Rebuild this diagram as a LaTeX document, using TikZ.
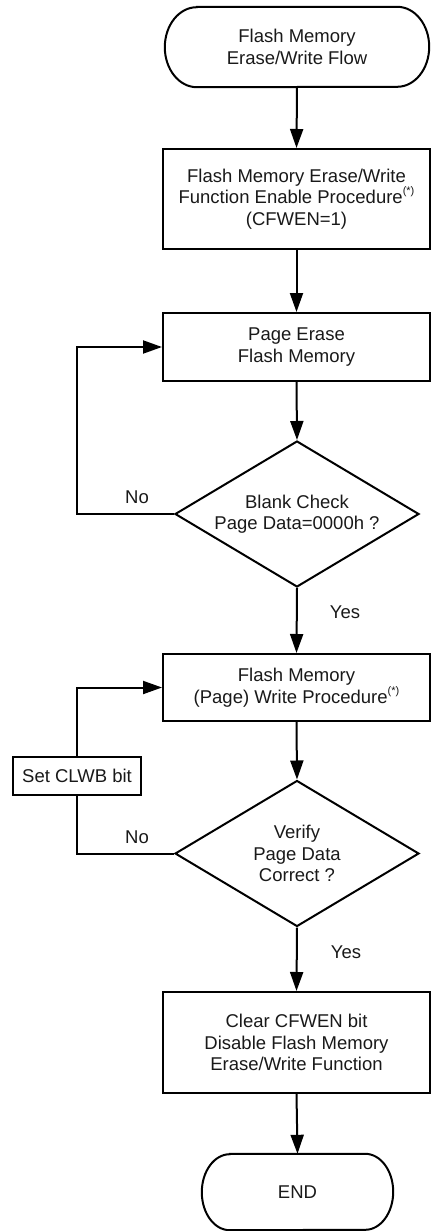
\documentclass[tikz,border=0pt]{standalone}
\usepackage{fontspec}
\setmainfont{Liberation Sans}
\usetikzlibrary{shapes.geometric,arrows.meta}
\newcommand\astnote{\raisebox{9pt}{\fontsize{11}{11}\selectfont(*)}}
\newcommand\drawstadium[3]{%
  \draw[line width=2pt] ([xshift=#2]#1.north west) -- ([xshift=-#2]#1.north east)
    arc[start angle=90,end angle=-90,x radius=#2,y radius=#3]
    -- ([xshift=#2]#1.south west)
    arc[start angle=270,end angle=90,x radius=#2,y radius=#3] -- cycle;}
\begin{document}
\begin{tikzpicture}[x=1pt,y=-1pt,
  font=\fontsize{18.5}{21.5}\selectfont,
  every node/.style={align=center, inner sep=0pt, text=black!90},
  procbox/.style={draw, line width=2pt, minimum width=267pt},
  decision/.style={draw, diamond, aspect=1.67, minimum width=244pt, minimum height=146pt, line width=2pt},
  flow/.style={line width=2pt, -{Triangle[length=19pt,width=13pt]}},
  plainline/.style={line width=2pt},
  lbl/.style={}
  ]
\useasboundingbox (0,0) rectangle (432,1231);

\node[minimum width=264pt, minimum height=80pt] (start) at (297,47) {Flash Memory\\Erase/Write Flow};
\drawstadium{start}{32pt}{40pt}

\node[procbox, minimum height=100pt] (enable) at (296.5,199) {Flash Memory Erase/Write\\Function Enable Procedure\astnote\\(CFWEN=1)};
\node[procbox, minimum height=68pt] (erase) at (296.5,347) {Page Erase\\Flash Memory};
\node[decision] (chk) at (297,514) {Blank Check\\Page Data=0000h ?};
\node[procbox, minimum height=67pt] (write) at (296.5,687.5) {Flash Memory\\(Page) Write Procedure\astnote};
\node[draw, line width=2pt, minimum width=128.6pt, minimum height=38pt] (clwb) at (77,776) {Set CLWB bit};
\node[decision] (ver) at (297,853.5) {Verify\\Page Data\\Correct ?};
\node[procbox, minimum height=101pt] (clear) at (296.5,1042.5) {Clear CFWEN bit\\Disable Flash Memory\\Erase/Write Function};
\node[minimum width=191pt, minimum height=76pt] (end) at (297.5,1192) {END};
\drawstadium{end}{28pt}{38pt}

\coordinate (lx) at (77,0);

\draw[flow] (start.south) -- (enable.north);
\draw[flow] (enable.south) -- (erase.north);
\draw[flow] (erase.south) -- (chk.north);
\draw[flow] (chk.west) -- (chk.west -| lx) |- (erase.west);
\draw[flow] (chk.south) -- (write.north);
\draw[flow] (write.south) -- (ver.north);
\draw[plainline] (ver.west) -| (clwb.south);
\draw[flow] (clwb.north) |- (write.west);
\draw[flow] (ver.south) -- (clear.north);
\draw[flow] (clear.south) -- (end.north);

\node[lbl] (no1) at (137,497) {No};
\node[lbl] (yes1) at (345,612) {Yes};
\node[lbl] (no2) at (137,837) {No};
\node[lbl] (yes2) at (346,952) {Yes};
\end{tikzpicture}
\end{document}
